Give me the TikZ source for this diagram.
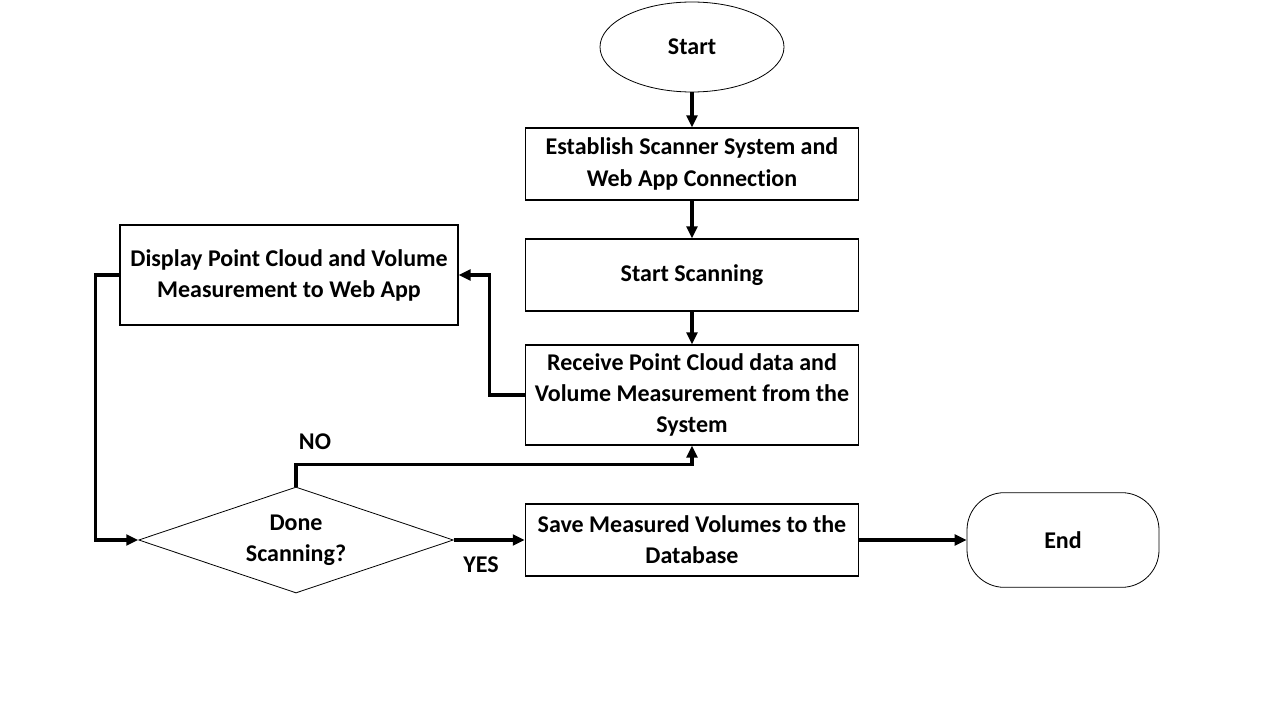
\documentclass[tikz,border=0pt]{standalone}
\usepackage{fontspec}
\setmainfont{Carlito}[Ligatures=NoCommon]
\usetikzlibrary{shapes.geometric,arrows.meta}

\tikzset{
  label text/.style={font=\bfseries\fontsize{18}{23.3}\selectfont, align=center},
  process/.style={draw, line width=0.8pt, label text, minimum width=250pt, minimum height=54pt, inner sep=2pt},
  decision/.style={draw, line width=0.6pt, diamond, shape aspect=3, label text, minimum width=236pt, minimum height=79.5pt, inner sep=0pt},
  flow/.style={line width=2.4pt, -{Triangle[length=9pt,width=8pt]}}
}

\begin{document}
\begin{tikzpicture}[x=0.75pt, y=-0.75pt]

    % Page
    \useasboundingbox (0,0) rectangle (1280,720);
    \fill[white] (0,0) rectangle (1280,720);

% Terminals
\node[draw, line width=0.6pt, ellipse, label text, minimum width=138pt, minimum height=67.5pt] (start) at (692,47) {Start};
\node[draw, line width=0.6pt, rounded corners=28pt, label text, minimum width=144pt, minimum height=71pt] (finish) at (1063,540) {End};

% Steps
\node[process] (connect) at (692,164) {Establish Scanner System and\\Web App Connection};
\node[process] (scanning) at (692,275) {Start Scanning};
\node[process, minimum height=75pt] (receive) at (692,395) {Receive Point Cloud data and\\Volume Measurement from the\\System};
\node[process, minimum width=253.5pt, minimum height=75pt] (display) at (289,275) {Display Point Cloud and Volume\\Measurement to Web App};
\node[process] (save) at (692,540) {Save Measured Volumes to the\\Database};

% Check
\node[decision] (done) at (296,540) {Done\\Scanning?};

% Connectors
\draw[flow] (start) -- (connect);
\draw[flow] (connect) -- (scanning);
\draw[flow] (scanning) -- (receive);
\draw[flow] (receive.west) -- ++(-35,0) |- (display.east);
\draw[flow] (display.west) -- ++(-24,0) |- (done.west);
\draw[flow] (done.north) -- ++(0,-22) -| (receive.south);
\draw[flow] (done.east) -- (save.west);
\draw[flow] (save.east) -- (finish.west);

% Labels
\node[label text] (no) at (315,442) {NO};
\node[label text] (yes) at (481,565) {YES};

\end{tikzpicture}
\end{document}
